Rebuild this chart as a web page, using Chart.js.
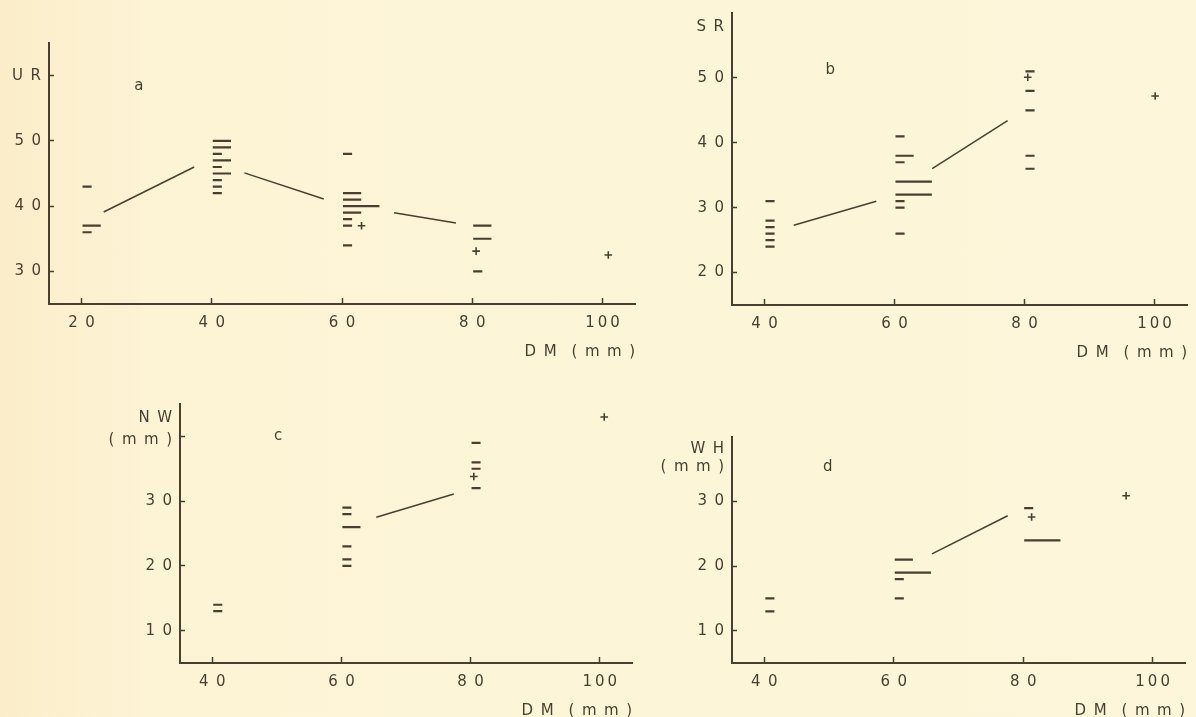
<!DOCTYPE html>
<html>
<head>
<meta charset="utf-8">
<script src="https://cdn.jsdelivr.net/npm/chart.js@4.4.1/dist/chart.umd.min.js"></script>
<style>
    body {
        margin: 0;
        width: 1196px;
        height: 717px;
        overflow: hidden;
        position: relative;
        background: linear-gradient(to right, #fbedc9 0px, #fdf4d6 160px, #fdf6da 100%);
    }
    canvas { position: absolute; }
</style>
</head>
<body>
<canvas id="chartA"></canvas>
<canvas id="chartB"></canvas>
<canvas id="chartC"></canvas>
<canvas id="chartD"></canvas>
<script>
// ---- data ----
// dashes: [DM group, value, number of specimens]  (dash length ~ number)
// trend:  [DM start, value start, DM end, value end] pieces of the mean line
// plus:   [DM, value] single specimens marked +

// panel a : UR
const dashesA = [
    [20, 43, 1], [20, 37, 2], [20, 36, 1],
    [40, 50, 2], [40, 49, 2], [40, 48, 1], [40, 47, 2], [40, 46, 1],
    [40, 45, 2], [40, 44, 1], [40, 43, 1], [40, 42, 1],
    [60, 48, 1], [60, 42, 2], [60, 41, 2], [60, 40, 4], [60, 39, 2],
    [60, 38, 1], [60, 37, 1], [60, 34, 1],
    [80, 37, 2], [80, 35, 2], [80, 30, 1]
];
const trendA = [[23.4, 39.1, 37.3, 46.0], [45.0, 45.1, 57.2, 41.1], [68.0, 39.0, 77.5, 37.4]];
const plusA = [[63.0, 37.0], [80.6, 33.1], [100.9, 32.5]];
const xTicksA = [20, 40, 60, 80, 100];
const yTicksA = [30, 40, 50, 60];
const yLabelsA = ['3 0', '4 0', '5 0', 'U R'];

// panel b : SR
const dashesB = [
    [40, 31, 1], [40, 28, 1], [40, 27, 1], [40, 26, 1], [40, 25, 1], [40, 24, 1],
    [60, 41, 1], [60, 38, 2], [60, 37, 1], [60, 34, 4], [60, 32, 4],
    [60, 31, 1], [60, 30, 1], [60, 26, 1],
    [80, 51, 1], [80, 48, 1], [80, 45, 1], [80, 38, 1], [80, 36, 1]
];
const trendB = [[44.5, 27.3, 57.2, 31.0], [65.8, 36.0, 77.4, 43.4]];
const plusB = [[80.5, 50.1], [100.1, 47.2]];
const xTicksB = [40, 60, 80, 100];
const yTicksB = [20, 30, 40, 50];
const yLabelsB = ['2 0', '3 0', '4 0', '5 0'];

// panel c : NW (mm)
const dashesC = [
    [40, 14, 1], [40, 13, 1],
    [60, 29, 1], [60, 28, 1], [60, 26, 2], [60, 23, 1], [60, 21, 1], [60, 20, 1],
    [80, 39, 1], [80, 36, 1], [80, 35, 1], [80, 32, 1]
];
const trendC = [[65.4, 27.5, 77.4, 31.1]];
const plusC = [[80.5, 33.8], [100.7, 43.0]];
const xTicksC = [40, 60, 80, 100];
const yTicksC = [10, 20, 30, 40];
const yLabelsC = ['1 0', '2 0', '3 0', ''];

// panel d : WH (mm)
const dashesD = [
    [40, 15, 1], [40, 13, 1],
    [60, 21, 2], [60, 19, 4], [60, 18, 1], [60, 15, 1],
    [80, 29, 1], [80, 24, 4]
];
const trendD = [[65.9, 21.9, 77.6, 27.8]];
const plusD = [[81.3, 27.6], [95.9, 30.9]];
const xTicksD = [40, 60, 80, 100];
const yTicksD = [10, 20, 30];
const yLabelsD = ['1 0', '2 0', '3 0'];

const xTitle = 'D M  ( m m )';

// ---- styling ----
const INK = '#4a3e31';
const FONT = { family: '"DejaVu Sans", sans-serif', size: 15 };
const DASH_UNIT = 1.4;   // DM units of dash per specimen
const DASH_START = 0.15; // dash starts just right of the group value

function spaced(s) {
    return s.replace(/ /g, '\u2002');
}

function xLabel(v) {
    const d = String(v).split('');
    return v >= 100 ? d.join('\u2009') : d.join('\u2002');
}

function dashPoints(dashes) {
    const pts = [];
    dashes.forEach(([dm, v, n]) => {
        const x0 = dm + DASH_START;
        const x1 = x0 + n * DASH_UNIT;
        pts.push({ x: x0, y: v }, { x: x1, y: v }, { x: x1, y: null });
    });
    return pts;
}

function trendPoints(trend) {
    const pts = [];
    trend.forEach(([xa, ya, xb, yb]) => {
        pts.push({ x: xa, y: ya }, { x: xb, y: yb }, { x: xb, y: null });
    });
    return pts;
}

// small letter a/b/c/d inside each panel
const panelLetter = {
    id: 'panelLetter',
    afterDatasetsDraw(chart, args, opts) {
        const { ctx, scales: { x, y } } = chart;
        ctx.save();
        ctx.font = FONT.size + 'px ' + FONT.family;
        ctx.fillStyle = INK;
        ctx.textAlign = 'center';
        ctx.textBaseline = 'middle';
        ctx.fillText(opts.text, x.getPixelForValue(opts.x), y.getPixelForValue(opts.y));
        ctx.restore();
    }
};

function makePanel(id, p) {
    // top padding must exceed the y scale's own label padding (half label + tick padding)
    const padTop = 26, padRight = 15, axisH = 62;
    const canvas = document.getElementById(id);
    canvas.width = p.yw + (p.area.r - p.area.l) + padRight;
    canvas.height = padTop + (p.area.b - p.area.t) + axisH;
    canvas.style.left = (p.area.l - p.yw) + 'px';
    canvas.style.top = (p.area.t - padTop) + 'px';

    const names = p.yNames || [];
    const nMarked = p.yTicks.length;

    return new Chart(canvas, {
        type: 'line',
        data: {
            datasets: [
                {
                    data: dashPoints(p.dashes),
                    borderColor: INK,
                    borderWidth: 2.2,
                    borderCapStyle: 'butt',
                    pointRadius: 0,
                    spanGaps: false
                },
                {
                    data: trendPoints(p.trend),
                    borderColor: INK,
                    borderWidth: 1.5,
                    pointRadius: 0,
                    spanGaps: false
                },
                {
                    data: p.plus.map(([x, y]) => ({ x, y })),
                    showLine: false,
                    pointStyle: 'cross',
                    pointRadius: 3.8,
                    pointBorderWidth: 1.6,
                    borderColor: INK
                }
            ]
        },
        options: {
            responsive: false,
            animation: false,
            layout: { padding: { top: padTop, right: padRight, left: 0, bottom: 0 } },
            plugins: {
                legend: { display: false },
                tooltip: { enabled: false },
                panelLetter: p.letter
            },
            scales: {
                x: {
                    type: 'linear',
                    min: p.x[0],
                    max: p.x[1],
                    afterBuildTicks: s => { s.ticks = p.xTicks.map(v => ({ value: v })); },
                    afterFit: s => { s.height = axisH; },
                    ticks: {
                        callback: v => xLabel(v),
                        color: INK,
                        font: FONT,
                        padding: 16,
                        autoSkip: false,
                        maxRotation: 0
                    },
                    grid: { drawOnChartArea: false, tickLength: -6, tickColor: INK, tickWidth: 1.5 },
                    border: { color: INK, width: 2 },
                    title: {
                        display: true,
                        text: spaced(xTitle),
                        align: 'end',
                        color: INK,
                        font: FONT,
                        padding: { top: 0, bottom: 5 }
                    }
                },
                y: {
                    type: 'linear',
                    min: p.y[0],
                    max: p.y[1],
                    afterBuildTicks: s => {
                        s.ticks = p.yTicks.map(v => ({ value: v }))
                            .concat(names.map(n => ({ value: n[0] })));
                    },
                    afterFit: s => { s.width = p.yw; },
                    ticks: {
                        callback: (v, i) => spaced(i < nMarked ? p.yLabels[i] : names[i - nMarked][1]),
                        color: INK,
                        font: FONT,
                        padding: 13,
                        autoSkip: false
                    },
                    grid: {
                        drawOnChartArea: false,
                        tickLength: -5,
                        tickWidth: 1.5,
                        tickColor: ctx => (ctx.index < nMarked ? INK : 'rgba(0,0,0,0)')
                    },
                    border: { color: INK, width: 2 }
                }
            }
        },
        plugins: [panelLetter]
    });
}

makePanel('chartA', {
    area: { l: 49, r: 635, t: 43, b: 304 }, yw: 49,
    x: [15, 105], y: [25, 65],
    xTicks: xTicksA, yTicks: yTicksA, yLabels: yLabelsA,
    dashes: dashesA, trend: trendA, plus: plusA,
    letter: { text: 'a', x: 28.8, y: 58.4 }
});

makePanel('chartB', {
    area: { l: 732, r: 1187, t: 13, b: 305 }, yw: 70,
    x: [35, 105], y: [15, 60],
    xTicks: xTicksB, yTicks: yTicksB, yLabels: yLabelsB,
    yNames: [[57.8, 'S R']],
    dashes: dashesB, trend: trendB, plus: plusB,
    letter: { text: 'b', x: 50.1, y: 51.2 }
});

makePanel('chartC', {
    area: { l: 180, r: 632, t: 404, b: 663 }, yw: 80,
    x: [35, 105], y: [5, 45],
    xTicks: xTicksC, yTicks: yTicksC, yLabels: yLabelsC,
    yNames: [[42.8, 'N W'], [39.4, '( m m )']],
    dashes: dashesC, trend: trendC, plus: plusC,
    letter: { text: 'c', x: 50.2, y: 40.1 }
});

makePanel('chartD', {
    area: { l: 732, r: 1185, t: 437, b: 663 }, yw: 80,
    x: [35, 105], y: [5, 40],
    xTicks: xTicksD, yTicks: yTicksD, yLabels: yLabelsD,
    yNames: [[38.1, 'W H'], [35.4, '( m m )']],
    dashes: dashesD, trend: trendD, plus: plusD,
    letter: { text: 'd', x: 49.8, y: 35.4 }
});
</script>
</body>
</html>
